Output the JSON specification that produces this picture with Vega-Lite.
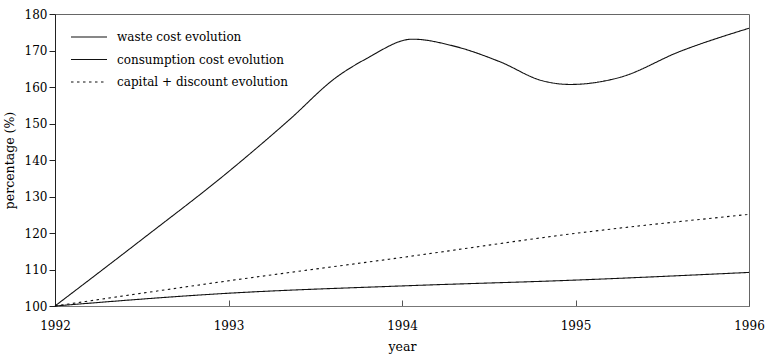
{
  "$schema": "https://vega.github.io/schema/vega-lite/v6.json",
  "width": 694,
  "height": 292,
  "autosize": "none",
  "padding": {"left": 55, "top": 14, "right": 21, "bottom": 57},
  "background": "white",
  "config": {
    "font": "DejaVu Serif",
    "view": {"stroke": "#666", "strokeWidth": 1},
    "axis": {"labelFont": "DejaVu Serif", "titleFont": "DejaVu Serif", "labelFontSize": 12, "titleFontSize": 12.5, "labelColor": "black", "titleColor": "black", "titleFontWeight": "normal", "grid": false},
    "legend": {"labelFont": "DejaVu Serif", "labelFontSize": 12, "labelColor": "black", "padding": 0, "labelLimit": 0}
  },
  "data": {
    "values": [
      {"year": 1992, "value": 100, "series": "waste cost evolution"},
      {"year": 1993, "value": 103.5, "series": "waste cost evolution"},
      {"year": 1994, "value": 105.5, "series": "waste cost evolution"},
      {"year": 1995, "value": 107.1, "series": "waste cost evolution"},
      {"year": 1996, "value": 109.2, "series": "waste cost evolution"},
      {"year": 1992, "value": 100, "series": "consumption cost evolution"},
      {"year": 1992.5, "value": 118.2, "series": "consumption cost evolution"},
      {"year": 1993, "value": 136.8, "series": "consumption cost evolution"},
      {"year": 1993.35, "value": 151, "series": "consumption cost evolution"},
      {"year": 1993.62, "value": 162.6, "series": "consumption cost evolution"},
      {"year": 1993.8, "value": 167.9, "series": "consumption cost evolution"},
      {"year": 1994.06, "value": 173.1, "series": "consumption cost evolution"},
      {"year": 1994.3, "value": 171.2, "series": "consumption cost evolution"},
      {"year": 1994.565, "value": 166.9, "series": "consumption cost evolution"},
      {"year": 1994.81, "value": 161.7, "series": "consumption cost evolution"},
      {"year": 1994.97, "value": 160.7, "series": "consumption cost evolution"},
      {"year": 1995.26, "value": 162.7, "series": "consumption cost evolution"},
      {"year": 1995.6, "value": 169.7, "series": "consumption cost evolution"},
      {"year": 1996, "value": 176.1, "series": "consumption cost evolution"},
      {"year": 1992, "value": 100, "series": "capital + discount evolution"},
      {"year": 1993, "value": 106.9, "series": "capital + discount evolution"},
      {"year": 1994, "value": 113.3, "series": "capital + discount evolution"},
      {"year": 1995, "value": 119.9, "series": "capital + discount evolution"},
      {"year": 1996, "value": 125.1, "series": "capital + discount evolution"}
    ]
  },
  "mark": {"type": "line", "interpolate": "monotone", "color": "#111"},
  "encoding": {
    "x": {
      "field": "year", "type": "quantitative",
      "scale": {"domain": [1992, 1996], "nice": false, "zero": false},
      "axis": {"values": [1992, 1993, 1994, 1995, 1996], "format": "d", "title": "year", "tickSize": -6, "labelPadding": 20, "titlePadding": 9, "domainColor": "#777", "tickColor": "#555", "labelFlush": false}
    },
    "y": {
      "field": "value", "type": "quantitative",
      "scale": {"domain": [100, 180], "nice": false, "zero": false},
      "axis": {"values": [100, 110, 120, 130, 140, 150, 160, 170, 180], "title": "percentage (%)", "tickSize": 6, "labelPadding": 2, "titlePadding": 8, "domainColor": "#222", "tickColor": "#222"}
    },
    "strokeDash": {
      "field": "series", "type": "nominal",
      "scale": {"domain": ["waste cost evolution", "consumption cost evolution", "capital + discount evolution"], "range": [[1, 0], [1, 0], [2.5, 3.5]]},
      "legend": {"title": null, "orient": "none", "legendX": 27, "legendY": 16, "symbolSize": 144, "symbolType": "M-3,0H3", "symbolStrokeColor": "#111", "rowPadding": 9.5, "labelOffset": 21, "symbolStrokeWidth": 1.6}
    },
    "strokeWidth": {
      "field": "series", "type": "nominal",
      "scale": {"domain": ["waste cost evolution", "consumption cost evolution", "capital + discount evolution"], "range": [1.1, 1.1, 2.6]},
      "legend": null
    }
  }
}
